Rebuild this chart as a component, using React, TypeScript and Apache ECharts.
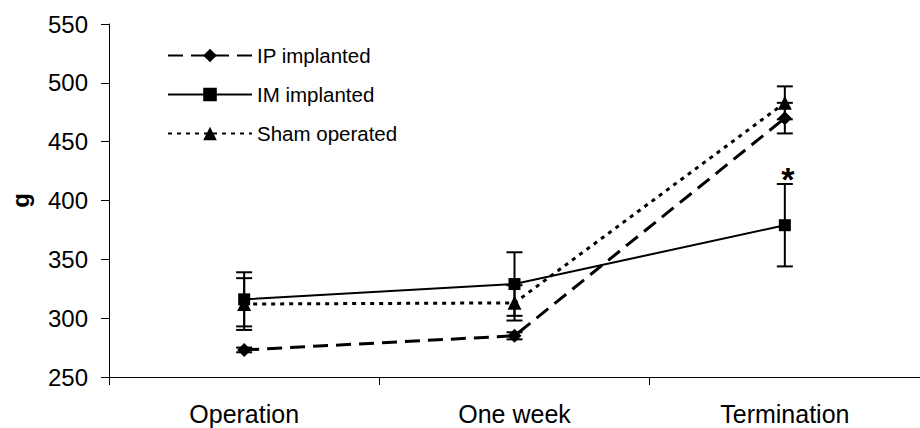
import React, { useEffect, useRef } from "react";
import * as echarts from "echarts";

const categories = ["Operation", "One week", "Termination"];
const ipValues = [273, 285, 470];
const ipErrors = [2, 3, 13];
const imValues = [316, 329, 379];
const imErrors = [23, 27, 35];
const shamValues = [312, 313, 483];
const shamErrors = [22, 15, 14];
const imSignificance = ["", "", "*"];
const yMin = 250;
const yMax = 550;
const yInterval = 50;

const FONT = "Liberation Sans, Arial, sans-serif";

function errorSeries(name: string, values: number[], errors: number[], marks?: string[]) {
  return {
    type: "custom",
    name: name + " error",
    z: 1,
    silent: true,
    encode: { x: 0, y: 1 },
    data: values.map((v, i) => [i, v, errors[i]]),
    renderItem: (params: any, api: any) => {
      const x = api.value(0);
      const v = api.value(1);
      const e = api.value(2);
      const top = api.coord([x, v + e]);
      const bot = api.coord([x, v - e]);
      const hw = 8;
      const st = { stroke: "#000", lineWidth: 2 };
      const children: any[] = [
        { type: "line", shape: { x1: top[0], y1: top[1], x2: bot[0], y2: bot[1] }, style: st },
        { type: "line", shape: { x1: top[0] - hw, y1: top[1], x2: top[0] + hw, y2: top[1] }, style: st },
        { type: "line", shape: { x1: bot[0] - hw, y1: bot[1], x2: bot[0] + hw, y2: bot[1] }, style: st },
      ];
      const mark = marks ? marks[params.dataIndex] : "";
      if (mark) {
        children.push({
          type: "text",
          style: {
            text: mark,
            x: top[0] + 3,
            y: top[1] - 5,
            align: "center",
            verticalAlign: "middle",
            fill: "#000",
            font: "bold 34px " + FONT,
          },
        });
      }
      return { type: "group", children };
    },
  };
}

export default function App() {
  const ref = useRef<HTMLDivElement>(null);
  useEffect(() => {
    if (!ref.current) return;
    const chart = echarts.init(ref.current, undefined, { renderer: "svg" });
    chart.setOption({
      animation: false,
      backgroundColor: "#fff",
      textStyle: { fontFamily: FONT, color: "#000" },
      grid: { left: 109, right: -8, top: 24, bottom: 51, containLabel: false },
      legend: {
        orient: "vertical",
        left: 162,
        top: 40,
        itemWidth: 84,
        itemHeight: 17,
        itemGap: 18,
        data: ["IP implanted", "IM implanted", "Sham operated"],
        textStyle: { fontSize: 20.5, fontFamily: FONT, color: "#000" },
      },
      xAxis: {
        type: "category",
        data: categories,
        boundaryGap: true,
        axisLine: { lineStyle: { color: "#000", width: 1 } },
        axisTick: { show: true, length: 8, lineStyle: { color: "#000" } },
        axisLabel: { fontSize: 25, color: "#000", margin: 24, fontFamily: FONT },
        splitLine: { show: false },
      },
      yAxis: {
        type: "value",
        min: yMin,
        max: yMax,
        interval: yInterval,
        name: "g",
        nameLocation: "middle",
        nameRotate: 90,
        nameGap: 77,
        nameTextStyle: { fontSize: 24, fontWeight: "bold", color: "#000", fontFamily: FONT },
        axisLine: { show: true, lineStyle: { color: "#000", width: 1 } },
        axisTick: { show: true, length: 8, lineStyle: { color: "#000" } },
        axisLabel: { fontSize: 24, color: "#000", margin: 21, fontFamily: FONT },
        splitLine: { show: false },
      },
      series: [
        errorSeries("IP implanted", ipValues, ipErrors),
        errorSeries("IM implanted", imValues, imErrors, imSignificance),
        errorSeries("Sham operated", shamValues, shamErrors),
        {
          type: "line",
          name: "IP implanted",
          data: ipValues,
          z: 3,
          symbol: "diamond",
          symbolSize: 14,
          lineStyle: { color: "#000", width: 3, type: [15, 8] },
          itemStyle: { color: "#000" },
        },
        {
          type: "line",
          name: "IM implanted",
          data: imValues,
          z: 3,
          symbol: "rect",
          symbolSize: 12,
          lineStyle: { color: "#000", width: 2, type: "solid" },
          itemStyle: { color: "#000" },
        },
        {
          type: "line",
          name: "Sham operated",
          data: shamValues,
          z: 3,
          symbol: "triangle",
          symbolSize: 14,
          lineStyle: { color: "#000", width: 3, type: [4, 5] },
          itemStyle: { color: "#000" },
        },
      ],
    });
    return () => chart.dispose();
  }, []);
  return (
    <div
      ref={ref}
      style={{ position: "fixed", left: 0, top: 0, width: 920, height: 428, background: "#fff" }}
    />
  );
}
